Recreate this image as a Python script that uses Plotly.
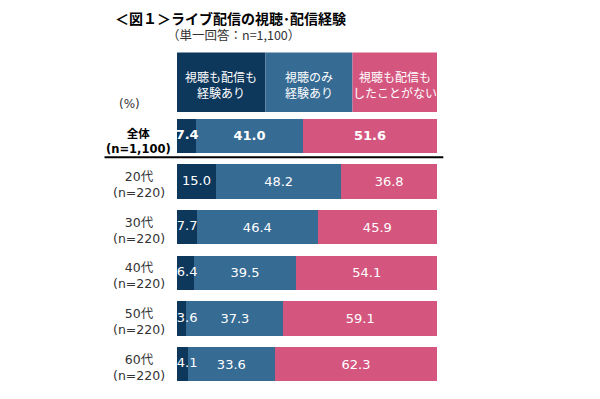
import plotly.graph_objects as go

# ---- data ----
categories = ["全体", "20代", "30代", "40代", "50代", "60代"]
sample_sizes = ["n=1,100", "n=220", "n=220", "n=220", "n=220", "n=220"]
both_exp = [7.4, 15.0, 7.7, 6.4, 3.6, 4.1]
view_only = [41.0, 48.2, 46.4, 39.5, 37.3, 33.6]
neither = [51.6, 36.8, 45.9, 54.1, 59.1, 62.3]
series_names = ["視聴も配信も<br>経験あり", "視聴のみ<br>経験あり", "視聴も配信も<br>したことがない"]
header_widths = [34.0, 33.5, 32.5]
colors = ["#0e375c", "#366b94", "#d4567f"]

title_text = "＜図１＞ライブ配信の視聴･配信経験"
subtitle_text = "（単一回答：n=1,100）"

NUM_FONT = "DejaVu Sans, Noto Sans CJK JP"
JP_FONT = "Noto Sans CJK JP, DejaVu Sans"

OFF = 8  # default body margin of the html page
W, H = 600, 399
pw, ph = 259.4, 274.8
L = 177.3 - OFF
T = 112.6 - OFF
R = W - L - pw
B = H - T - ph


def px_x(p):
    return (p - OFF - L) / pw


def px_y(p):
    return (H - B - (p - OFF)) / ph


def fmt(v, c):
    return f"<b>{v:.1f}</b>" if c == "全体" else f"{v:.1f}"


fig = go.Figure()
for i, (vals, name, col) in enumerate(zip([both_exp, view_only, neither], series_names, colors)):
    fig.add_trace(go.Bar(
        y=categories, x=vals, orientation="h", name=name,
        marker=dict(color=col, line=dict(width=0)),
        text=None if i == 0 else [fmt(v, c) for v, c in zip(vals, categories)],
        textposition="inside", insidetextanchor="middle",
        textangle=0, constraintext="none",
        textfont=dict(family=NUM_FONT, size=13, color="white"),
        hoverinfo="skip", width=0.75,
    ))

# labels of the narrow dark segment drawn on top
fig.add_trace(go.Scatter(
    y=categories, x=[max(v / 2, 3.9) for v in both_exp], mode="text",
    text=[fmt(v, c) for v, c in zip(both_exp, categories)],
    textposition="middle center", cliponaxis=False,
    textfont=dict(family=NUM_FONT, size=13, color="white"),
    hoverinfo="skip", showlegend=False,
))

shapes = []
annotations = []

# header legend blocks
start = 0.0
for w, name, col in zip(header_widths, series_names, colors):
    shapes.append(dict(type="rect", xref="x", yref="paper", x0=start, x1=start + w,
                       y0=px_y(111.5), y1=px_y(52), fillcolor=col, line=dict(width=0), layer="above"))
    annotations.append(dict(xref="x", yref="paper", x=start + w / 2, y=px_y(84.5), text=name,
                            xanchor="center", yanchor="middle",
                            showarrow=False, font=dict(family=JP_FONT, size=12, color="white"),
                            align="center"))
    start += w

# separator line under 全体
shapes.append(dict(type="line", xref="paper", yref="paper", x0=px_x(105), x1=px_x(443),
                   y0=px_y(157), y1=px_y(157), line=dict(color="black", width=2)))

# row labels
for c, n in zip(categories, sample_sizes):
    if c == "全体":
        txt = f"<b>{c}<br>({n})</b>"
        annotations.append(dict(xref="paper", yref="y", x=px_x(138.5), y=c, text=txt, yshift=-6,
                                xanchor="center", yanchor="middle",
                                showarrow=False, font=dict(family=NUM_FONT, size=11.5, color="black"),
                                align="center"))
    else:
        txt = f"{c}<br>({n})"
        annotations.append(dict(xref="paper", yref="y", x=px_x(139), y=c, text=txt, yshift=-3,
                                xanchor="center", yanchor="middle",
                                showarrow=False, font=dict(family=NUM_FONT, size=12.5, color="#333333"),
                                align="center"))

# (%)
annotations.append(dict(xref="paper", yref="paper", x=px_x(130), y=px_y(104), text="(%)",
                        xanchor="center", yanchor="middle",
                        showarrow=False, font=dict(family=NUM_FONT, size=12, color="#333333")))
# title / subtitle
annotations.append(dict(xref="paper", yref="paper", x=px_x(113), y=px_y(17), text=f"<b>{title_text}</b>",
                        xanchor="left", yanchor="middle",
                        showarrow=False, font=dict(family=JP_FONT, size=14, color="black")))
annotations.append(dict(xref="paper", yref="paper", x=px_x(165), y=px_y(34), text=subtitle_text,
                        xanchor="left", yanchor="middle",
                        showarrow=False, font=dict(family=JP_FONT, size=12.5, color="#333333")))

fig.update_layout(
    width=W, height=H, barmode="stack",
    margin=dict(l=L, r=R, t=T, b=B, pad=0, autoexpand=False),
    paper_bgcolor="white", plot_bgcolor="white",
    showlegend=False,
    xaxis=dict(range=[0, 100], visible=False, fixedrange=True),
    yaxis=dict(categoryorder="array", categoryarray=categories, autorange="reversed",
               showticklabels=False, showgrid=False, zeroline=False, showline=False, fixedrange=True),
    shapes=shapes, annotations=annotations,
)

fig.write_html("out.html")
